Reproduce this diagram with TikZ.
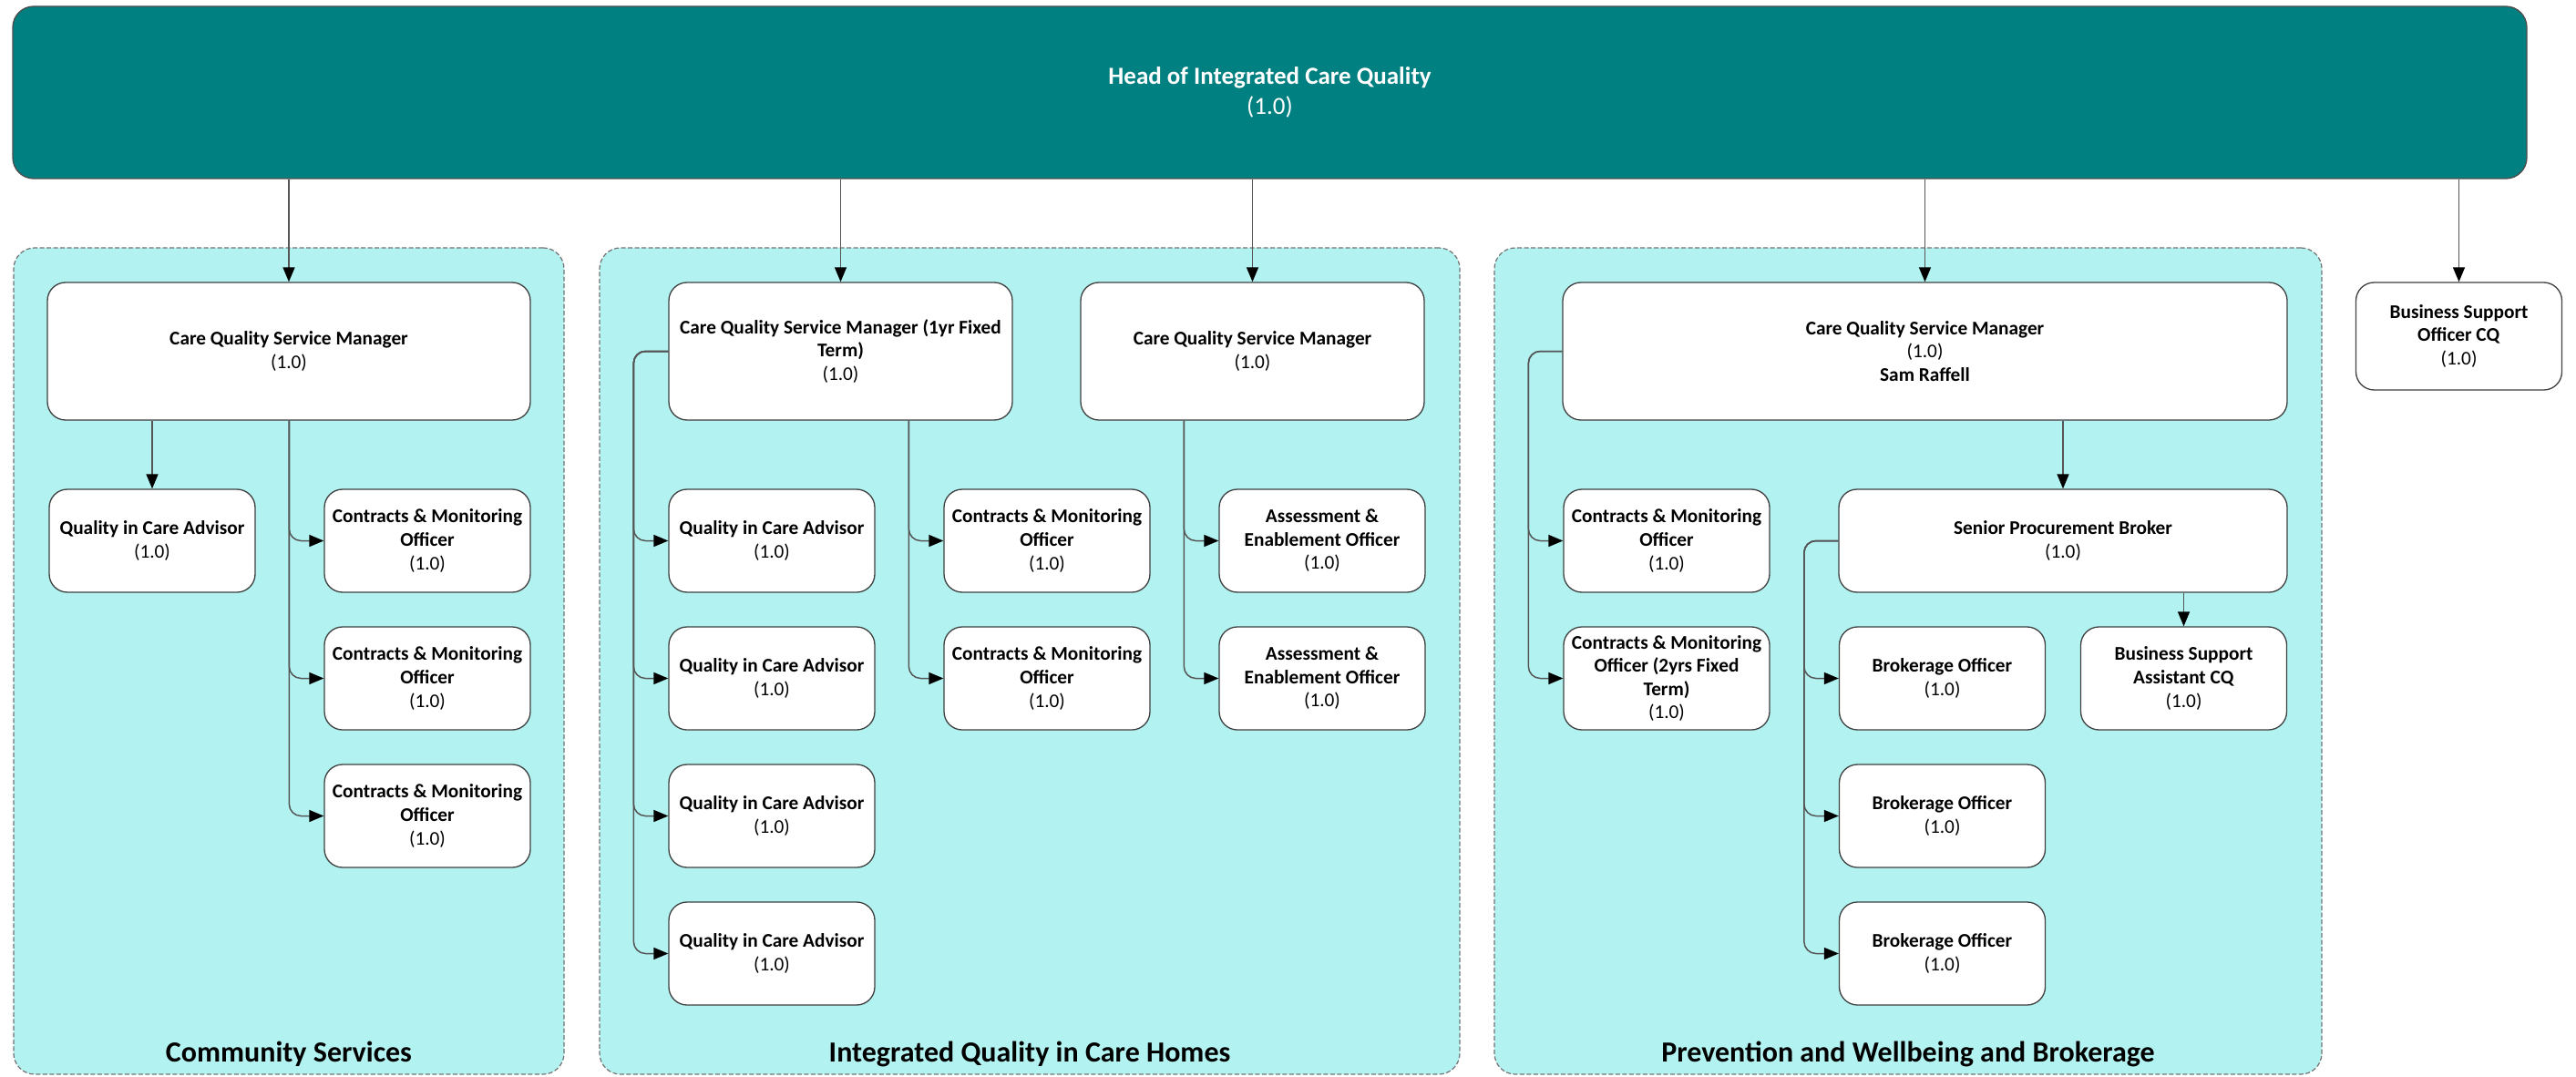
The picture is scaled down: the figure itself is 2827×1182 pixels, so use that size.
\documentclass[tikz,border=0pt]{standalone}
\usepackage{fontspec}
\setmainfont{Carlito}
\usetikzlibrary{arrows.meta,calc}
\definecolor{headteal}{RGB}{0,128,128}
\definecolor{grpfill}{RGB}{178,243,242}
\definecolor{linegray}{RGB}{85,85,85}
\begin{document}
\begin{tikzpicture}[x=1pt,y=-1pt,
  box/.style={draw=black!75, line width=1.3pt, fill=white, rounded corners=20pt, align=center, inner sep=0pt,
    font={\fontsize{21.3}{25.6}\selectfont}, minimum width=226pt, minimum height=113pt},
  bigbox/.style={box, minimum height=151pt},
  headbox/.style={draw=black!70, line width=1.3pt, fill=headteal, rounded corners=23pt, text=white, align=center,
    inner sep=0pt, font={\fontsize{27}{32.4}\selectfont}, minimum width=2759pt, minimum height=189pt},
  grp/.style={draw=black!55, dash pattern=on 5pt off 2.5pt, line width=1.2pt, fill=grpfill, rounded corners=23pt,
    minimum height=907pt, inner sep=0pt},
  conn/.style={draw=linegray, line width=1.5pt, -{Triangle[length=16pt,width=13pt,color=black]}},
  elbow/.style={conn, rounded corners=13pt},
  glabel/.style={font={\fontsize{32}{38}\selectfont\bfseries}, anchor=base, inner sep=0pt}
]
\useasboundingbox (0,0) rectangle (2827,1182);
\fill[white] (0,0) rectangle (2827,1182);

% groups
\node[grp, minimum width=604pt] (g1) at (317,725.5) {};
\node[grp, minimum width=944pt] (g2) at (1130,725.5) {};
\node[grp, minimum width=908pt] (g3) at (2094,725.5) {};
\node[glabel] (l1) at (317,1165) {Community Services};
\node[glabel] (l2) at (1130,1165) {Integrated Quality in Care Homes};
\node[glabel] (l3) at (2094,1165) {Prevention and Wellbeing and Brokerage};

% head
\node[headbox] (head) at (1393.5,101.5) {\textbf{Head of Integrated Care Quality}\\(1.0)};

% group 1
\node[bigbox, minimum width=530pt] (cs1) at (317,385.5) {\textbf{Care Quality Service Manager}\\(1.0)};
\node[box] (q11) at (167,593.5) {\textbf{Quality in Care Advisor}\\(1.0)};
\node[box] (m11) at (469,593.5) {\textbf{Contracts \& Monitoring}\\\textbf{Officer}\\(1.0)};
\node[box] (m12) at (469,744.5) {\textbf{Contracts \& Monitoring}\\\textbf{Officer}\\(1.0)};
\node[box] (m13) at (469,895.5) {\textbf{Contracts \& Monitoring}\\\textbf{Officer}\\(1.0)};

% group 2
\node[bigbox, minimum width=377pt] (p2a) at (922.5,385.5) {\textbf{Care Quality Service Manager (1yr Fixed}\\\textbf{Term)}\\(1.0)};
\node[bigbox, minimum width=377pt] (p2b) at (1374.5,385.5) {\textbf{Care Quality Service Manager}\\(1.0)};
\node[box] (q21) at (847,593.5) {\textbf{Quality in Care Advisor}\\(1.0)};
\node[box] (q22) at (847,744.5) {\textbf{Quality in Care Advisor}\\(1.0)};
\node[box] (q23) at (847,895.5) {\textbf{Quality in Care Advisor}\\(1.0)};
\node[box] (q24) at (847,1046.5) {\textbf{Quality in Care Advisor}\\(1.0)};
\node[box] (c21) at (1149,593.5) {\textbf{Contracts \& Monitoring}\\\textbf{Officer}\\(1.0)};
\node[box] (c22) at (1149,744.5) {\textbf{Contracts \& Monitoring}\\\textbf{Officer}\\(1.0)};
\node[box] (a21) at (1451,593.5) {\textbf{Assessment \&}\\\textbf{Enablement Officer}\\(1.0)};
\node[box] (a22) at (1451,744.5) {\textbf{Assessment \&}\\\textbf{Enablement Officer}\\(1.0)};

% group 3
\node[bigbox, minimum width=795pt] (p3) at (2112.5,385.5) {\textbf{Care Quality Service Manager}\\(1.0)\\\textbf{Sam Raffell}};
\node[box] (m31) at (1829,593.5) {\textbf{Contracts \& Monitoring}\\\textbf{Officer}\\(1.0)};
\node[box] (m32) at (1829,744.5) {\textbf{Contracts \& Monitoring}\\\textbf{Officer (2yrs Fixed}\\\textbf{Term)}\\(1.0)};
\node[box, minimum width=492pt] (spb) at (2264,593.5) {\textbf{Senior Procurement Broker}\\(1.0)};
\node[box] (b31) at (2131.5,744.5) {\textbf{Brokerage Officer}\\(1.0)};
\node[box] (b32) at (2131.5,895.5) {\textbf{Brokerage Officer}\\(1.0)};
\node[box] (b33) at (2131.5,1046.5) {\textbf{Brokerage Officer}\\(1.0)};
\node[box] (bsa) at (2396.5,744.5) {\textbf{Business Support}\\\textbf{Assistant CQ}\\(1.0)};

% standalone
\node[box, minimum height=118pt] (bso) at (2698.5,369) {\textbf{Business Support}\\\textbf{Officer CQ}\\(1.0)};

% connectors from head
\draw[conn] (cs1.north |- head.south) -- (cs1.north);
\draw[conn] (p2a.north |- head.south) -- (p2a.north);
\draw[conn] (p2b.north |- head.south) -- (p2b.north);
\draw[conn] (p3.north |- head.south) -- (p3.north);
\draw[conn] (bso.north |- head.south) -- (bso.north);

% group 1 connectors
\draw[conn] (q11.north |- cs1.south) -- (q11.north);
\foreach \n in {m11,m12,m13}
  \draw[elbow] ([xshift=-38pt]\n.west |- cs1.south) |- (\n.west);

% group 2 connectors
\foreach \n in {q21,q22,q23,q24}
  \draw[elbow] (p2a.west) -| ([xshift=-38pt]\n.west) -- (\n.west);
\foreach \n in {c21,c22}
  \draw[elbow] ([xshift=-38pt]\n.west |- p2a.south) |- (\n.west);
\foreach \n in {a21,a22}
  \draw[elbow] ([xshift=-38pt]\n.west |- p2b.south) |- (\n.west);

% group 3 connectors
\foreach \n in {m31,m32}
  \draw[elbow] (p3.west) -| ([xshift=-38pt]\n.west) -- (\n.west);
\draw[conn] (spb.north |- p3.south) -- (spb.north);
\foreach \n in {b31,b32,b33}
  \draw[elbow] (spb.west) -| ([xshift=-38pt]\n.west) -- (\n.west);
\draw[conn] (bsa.north |- spb.south) -- (bsa.north);
\end{tikzpicture}
\end{document}
